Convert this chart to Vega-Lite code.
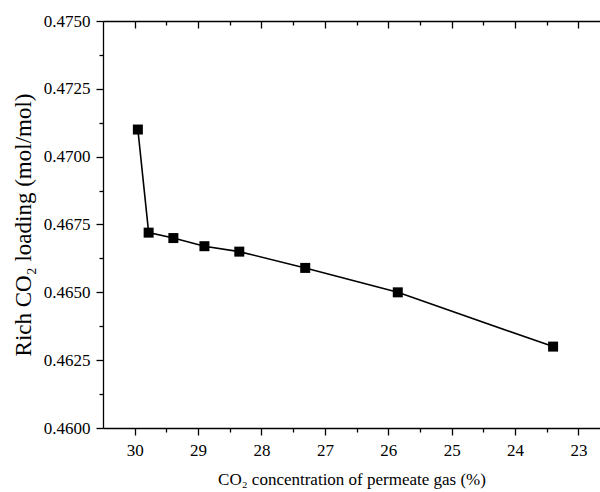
{
  "$schema": "https://vega.github.io/schema/vega-lite/v6.json",
  "autosize": "none",
  "width": 497,
  "height": 407,
  "padding": {"left": 103, "top": 21, "right": 0, "bottom": 64},
  "background": "white",
  "config": {
    "view": {"stroke": null},
    "font": "Liberation Serif",
    "axis": {
      "grid": false,
      "domainColor": "black",
      "tickColor": "black",
      "labelColor": "black",
      "titleColor": "black",
      "labelFont": "Liberation Serif",
      "titleFont": "Liberation Serif",
      "titleFontWeight": "normal",
      "domainWidth": 1.3,
      "tickWidth": 1.3
    }
  },
  "data": {
    "values": [
      {"conc": 29.95, "loading": 0.4710},
      {"conc": 29.78, "loading": 0.4672},
      {"conc": 29.39, "loading": 0.4670},
      {"conc": 28.90, "loading": 0.4667},
      {"conc": 28.35, "loading": 0.4665},
      {"conc": 27.31, "loading": 0.4659},
      {"conc": 25.85, "loading": 0.4650},
      {"conc": 23.40, "loading": 0.4630}
    ]
  },
  "layer": [
    {
      "mark": {"type": "line", "color": "black", "strokeWidth": 1.6},
      "encoding": {
        "x": {
          "field": "conc", "type": "quantitative",
          "scale": {"domain": [22.66, 30.5], "reverse": true, "nice": false, "zero": false},
          "axis": {
            "orient": "bottom",
            "values": [23, 24, 25, 26, 27, 28, 29, 30],
            "tickSize": 7, "labelPadding": 7, "labelFontSize": 17,
            "labelFont": "Liberation Serif",
            "title": "CO₂ concentration of permeate gas (%)",
            "titleFont": "Liberation Serif",
            "titleFontSize": 17, "titlePadding": 13
          }
        },
        "y": {
          "field": "loading", "type": "quantitative",
          "scale": {"domain": [0.46, 0.475], "nice": false, "zero": false},
          "axis": {
            "orient": "left",
            "values": [0.46, 0.4625, 0.465, 0.4675, 0.47, 0.4725, 0.475],
            "format": ".4f",
            "tickSize": 7, "labelPadding": 6, "labelFontSize": 17,
            "labelFont": "Liberation Serif",
            "title": "Rich CO₂ loading (mol/mol)",
            "titleFont": "Liberation Serif",
            "titleFontSize": 23, "titlePadding": 8
          }
        }
      }
    },
    {
      "mark": {"type": "square", "color": "black", "size": 100, "opacity": 1},
      "encoding": {
        "x": {
          "field": "conc", "type": "quantitative",
          "axis": {
            "orient": "bottom", "domain": false, "labels": false, "title": null,
            "values": [23.5, 24.5, 25.5, 26.5, 27.5, 28.5, 29.5],
            "tickSize": 4
          }
        },
        "y": {
          "field": "loading", "type": "quantitative",
          "axis": {
            "orient": "left", "domain": false, "labels": false, "title": null,
            "values": [0.46125, 0.46375, 0.46625, 0.46875, 0.47125, 0.47375],
            "tickSize": 4
          }
        }
      }
    },
    {
      "mark": {"type": "point", "opacity": 0},
      "encoding": {
        "x": {
          "field": "conc", "type": "quantitative",
          "axis": {
            "orient": "top", "domain": true, "labels": false, "title": null,
            "values": [23, 24, 25, 26, 27, 28, 29, 30],
            "tickSize": -7
          }
        },
        "y": {"field": "loading", "type": "quantitative", "axis": null}
      }
    },
    {
      "mark": {"type": "point", "opacity": 0},
      "encoding": {
        "x": {
          "field": "conc", "type": "quantitative",
          "axis": {
            "orient": "top", "domain": false, "labels": false, "title": null,
            "values": [23.5, 24.5, 25.5, 26.5, 27.5, 28.5, 29.5],
            "tickSize": -4
          }
        },
        "y": {"field": "loading", "type": "quantitative", "axis": null}
      }
    }
  ],
  "resolve": {"axis": {"x": "independent", "y": "independent"}}
}
